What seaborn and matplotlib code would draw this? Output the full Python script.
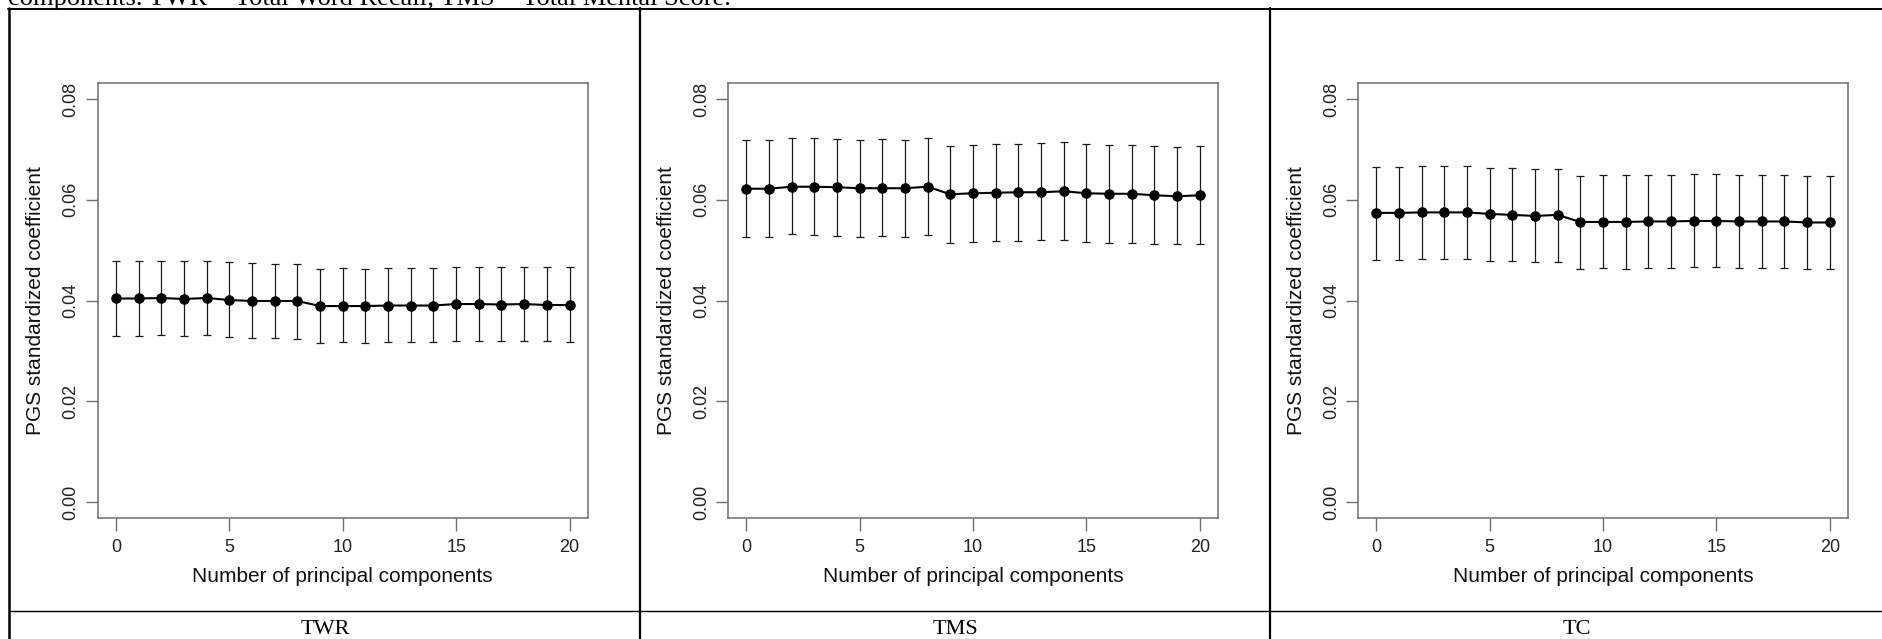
import numpy as np
import pandas as pd
import matplotlib
matplotlib.use("Agg")
import matplotlib.pyplot as plt
from matplotlib.lines import Line2D
import seaborn as sns

N_PCS = list(range(21))
PANELS = ["TWR", "TMS", "TC"]
CAPTION = "components. TWR = Total Word Recall; TMS = Total Mental Score."

TWR_EST = [0.0404, 0.0404, 0.0405, 0.0403, 0.0405, 0.0401, 0.0399, 0.0399, 0.0399, 0.0389, 0.0389,
           0.0389, 0.0390, 0.0390, 0.0390, 0.0393, 0.0393, 0.0392, 0.0393, 0.0391, 0.0391]
TWR_HI = [0.0478, 0.0478, 0.0479, 0.0478, 0.0479, 0.0476, 0.0474, 0.0472, 0.0472, 0.0463, 0.0464,
          0.0463, 0.0464, 0.0464, 0.0464, 0.0466, 0.0466, 0.0466, 0.0467, 0.0466, 0.0466]
TWR_LO = [0.0330, 0.0330, 0.0332, 0.0330, 0.0332, 0.0328, 0.0326, 0.0326, 0.0324, 0.0315, 0.0317,
          0.0315, 0.0317, 0.0317, 0.0317, 0.0319, 0.0319, 0.0319, 0.0320, 0.0319, 0.0318]

TMS_EST = [0.0622, 0.0622, 0.0626, 0.0626, 0.0625, 0.0623, 0.0623, 0.0623, 0.0626, 0.0611, 0.0613,
           0.0614, 0.0615, 0.0615, 0.0617, 0.0613, 0.0612, 0.0612, 0.0609, 0.0607, 0.0609]
TMS_HI = [0.0719, 0.0719, 0.0723, 0.0723, 0.0721, 0.0719, 0.0720, 0.0719, 0.0723, 0.0707, 0.0709,
          0.0711, 0.0711, 0.0713, 0.0714, 0.0710, 0.0709, 0.0709, 0.0706, 0.0705, 0.0706]
TMS_LO = [0.0526, 0.0526, 0.0532, 0.0530, 0.0528, 0.0526, 0.0528, 0.0526, 0.0530, 0.0514, 0.0517,
          0.0518, 0.0519, 0.0520, 0.0521, 0.0517, 0.0515, 0.0515, 0.0513, 0.0512, 0.0513]

TC_EST = [0.0574, 0.0574, 0.0575, 0.0575, 0.0575, 0.0572, 0.0570, 0.0568, 0.0570, 0.0556, 0.0556,
          0.0556, 0.0557, 0.0557, 0.0558, 0.0558, 0.0557, 0.0557, 0.0557, 0.0555, 0.0555]
TC_HI = [0.0666, 0.0666, 0.0668, 0.0667, 0.0667, 0.0664, 0.0663, 0.0661, 0.0662, 0.0648, 0.0650,
         0.0649, 0.0650, 0.0650, 0.0651, 0.0652, 0.0650, 0.0650, 0.0650, 0.0648, 0.0648]
TC_LO = [0.0481, 0.0481, 0.0483, 0.0482, 0.0482, 0.0479, 0.0478, 0.0476, 0.0477, 0.0463, 0.0464,
         0.0463, 0.0464, 0.0465, 0.0466, 0.0466, 0.0465, 0.0464, 0.0464, 0.0462, 0.0462]

X_TICKS = [0, 5, 10, 15, 20]
Y_TICKS = [0.00, 0.02, 0.04, 0.06, 0.08]
Y_TICKLABELS = ["0.00", "0.02", "0.04", "0.06", "0.08"]

sns.set_theme(style="white")
plt.rcParams.update({
    "font.family": ["Liberation Sans", "DejaVu Sans"],
    "axes.edgecolor": "#6e6e6e",
    "axes.linewidth": 1.1,
})

W, H = 1883, 639
fig = plt.figure(figsize=(W / 100, H / 100), dpi=100)
fig.patch.set_facecolor("white")

series = {
    "TWR": (TWR_EST, TWR_LO, TWR_HI),
    "TMS": (TMS_EST, TMS_LO, TMS_HI),
    "TC": (TC_EST, TC_LO, TC_HI),
}

box_left = [97.7, 728, 1358]
box_top, box_bottom, box_w = 83, 518, 490

for name, left in zip(PANELS, box_left):
    est, lo, hi = series[name]
    df = pd.DataFrame({"pc": N_PCS, "est": est, "lo": lo, "hi": hi})
    ax = fig.add_axes([left / W, 1 - box_bottom / H, box_w / W, (box_bottom - box_top) / H])
    ax.errorbar(df["pc"], df["est"],
                yerr=[df["est"] - df["lo"], df["hi"] - df["est"]],
                fmt="none", ecolor="#1a1a1a", elinewidth=0.9, capsize=3, capthick=0.9)
    sns.lineplot(data=df, x="pc", y="est", ax=ax, color="black", lw=1.5,
                 marker="o", markersize=6.8, markeredgecolor="black")
    ax.set_xlim(-0.8, 20.8)
    ax.set_ylim(-0.0032, 0.0832)
    ax.set_xticks(X_TICKS)
    ax.set_yticks(Y_TICKS)
    ax.set_yticklabels(Y_TICKLABELS, rotation=90, va="center")
    ax.tick_params(axis="both", direction="out", length=9, width=1.0, color="#6e6e6e",
                   labelsize=13, labelcolor="#222222", left=True, bottom=True)
    ax.tick_params(axis="y", pad=4)
    ax.tick_params(axis="x", pad=6)
    ax.set_xlabel("Number of principal components", fontsize=15, color="#111111")
    ax.set_ylabel("PGS standardized coefficient", fontsize=15, color="#111111")
    ax.xaxis.label.set_va("center")
    ax.yaxis.label.set_va("center")
    ax.xaxis.set_label_coords(0.5, (box_bottom - 577) / (box_bottom - box_top))
    ax.yaxis.set_label_coords(-61.7 / box_w, 0.5)
    for sp in ax.spines.values():
        sp.set_visible(True)


def px_line(x0, y0, x1, y1, lw):
    fig.add_artist(Line2D([x0 / W, x1 / W], [1 - y0 / H, 1 - y1 / H],
                          transform=fig.transFigure, color="black", lw=lw))


# table grid around the three panels
px_line(8, 8.5, W, 8.5, 1.4)
px_line(9.5, 8, 9.5, H, 1.8)
px_line(640, 8, 640, H, 1.6)
px_line(1270, 8, 1270, H, 1.6)
px_line(9, 611, W, 611, 1.0)

fig.text(8 / W, 1 - 5 / H, CAPTION, fontsize=19, va="baseline", ha="left",
         family=["Liberation Serif", "DejaVu Serif"], color="black")

cell_centers = [325, 955, 1577]
for name, cx in zip(PANELS, cell_centers):
    fig.text(cx / W, 1 - 634 / H, name, fontsize=16, va="baseline", ha="center",
             family=["Liberation Serif", "DejaVu Serif"], color="black")

fig.savefig("out.png", dpi=100, facecolor="white")
